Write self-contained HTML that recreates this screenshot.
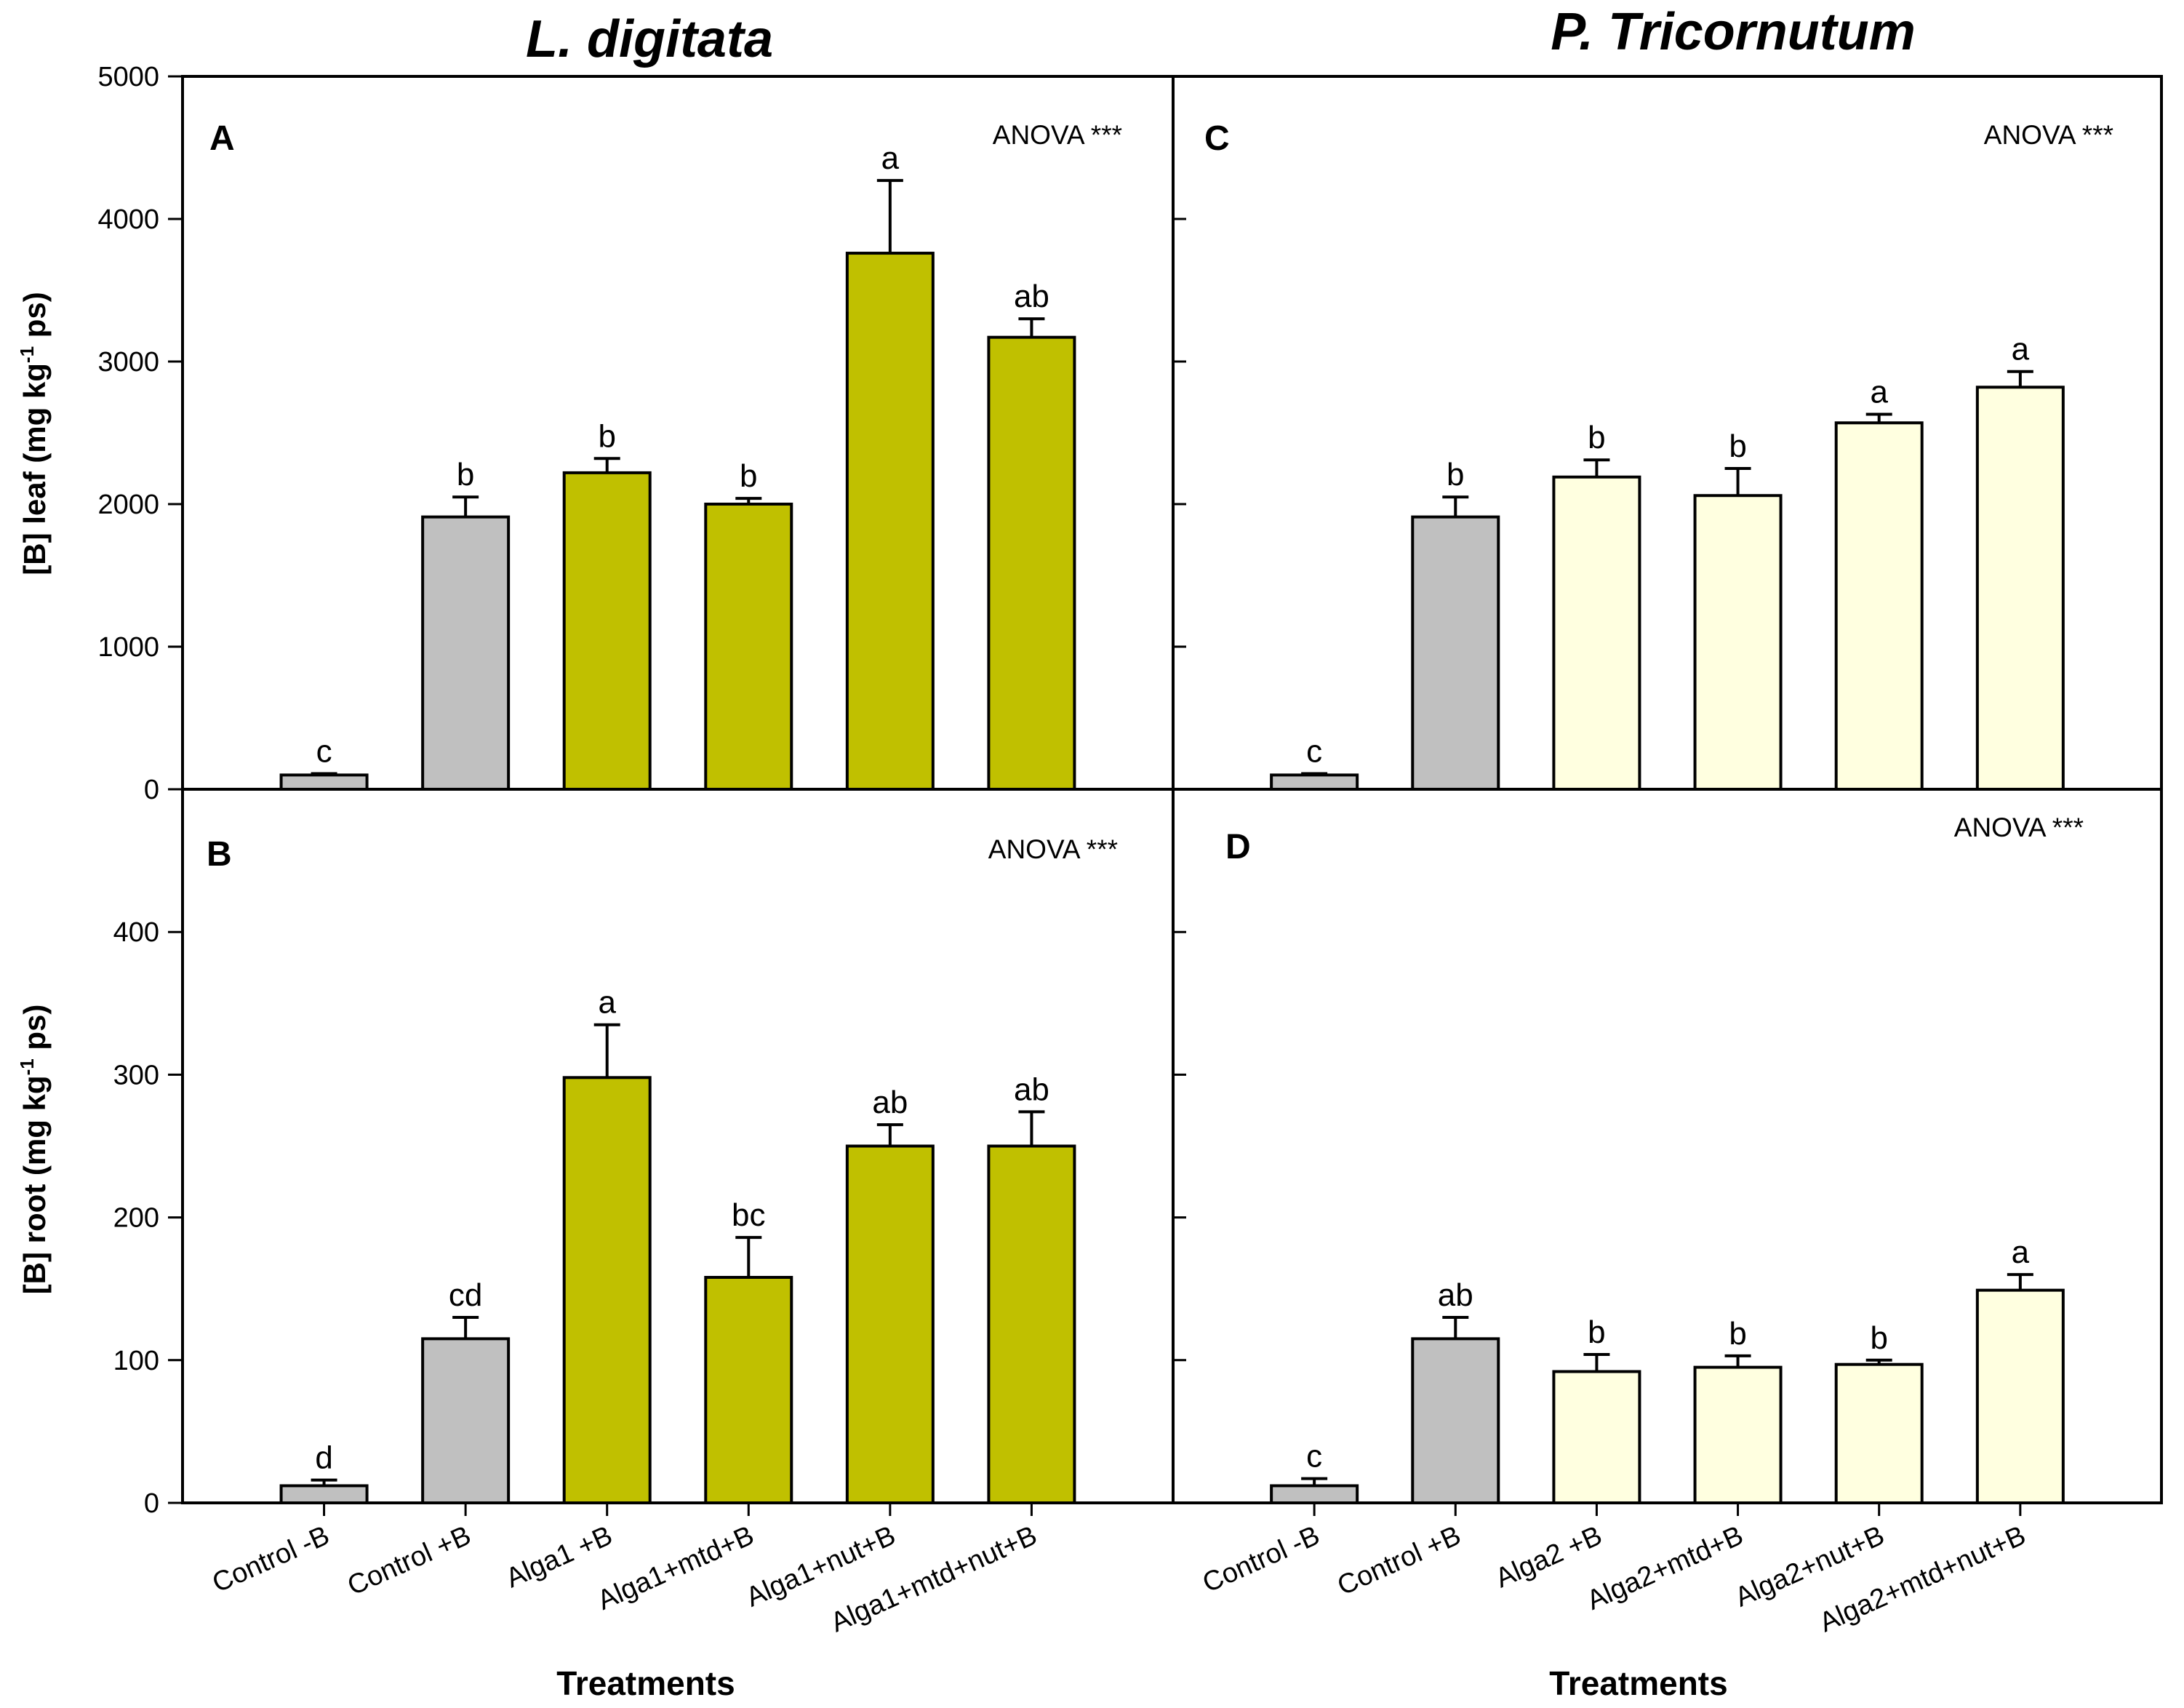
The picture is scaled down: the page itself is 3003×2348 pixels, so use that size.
<!DOCTYPE html>
<html><head><meta charset="utf-8"><style>
html,body{margin:0;padding:0;background:#fff;}
svg{display:block;font-family:"Liberation Sans",Arial,sans-serif;}
</style></head><body>
<svg id="chart" width="3003" height="2348" viewBox="0 0 3003 2348" xmlns="http://www.w3.org/2000/svg">
<text x="893" y="78" font-size="72" font-weight="bold" font-style="italic" text-anchor="middle">L. digitata</text>
<text x="2383" y="68" font-size="72" font-weight="bold" font-style="italic" text-anchor="middle">P. Tricornutum</text>
<text transform="translate(62,596) rotate(-90)" font-size="42" font-weight="bold" text-anchor="middle">[B] leaf (mg kg<tspan dy="-16" font-size="26">-1</tspan><tspan dy="16"> ps)</tspan></text>
<text transform="translate(62,1580) rotate(-90)" font-size="42" font-weight="bold" text-anchor="middle">[B] root (mg kg<tspan dy="-16" font-size="26">-1</tspan><tspan dy="16"> ps)</tspan></text>
<text x="888" y="2330" font-size="46" font-weight="bold" text-anchor="middle">Treatments</text>
<text x="2253" y="2330" font-size="46" font-weight="bold" text-anchor="middle">Treatments</text>
<g id="plots"></g>
</svg>
<script>
const catsLeft = ["Control -B","Control +B","Alga1 +B","Alga1+mtd+B","Alga1+nut+B","Alga1+mtd+nut+B"];
const catsRight = ["Control -B","Control +B","Alga2 +B","Alga2+mtd+B","Alga2+nut+B","Alga2+mtd+nut+B"];
const leafTicks = [0,1000,2000,3000,4000,5000];
const rootTicks = [0,100,200,300,400];
const valsA = [100,1910,2220,2000,3760,3170];
const errA  = [110,2050,2320,2040,4270,3300];
const letA  = ["c","b","b","b","a","ab"];
const valsC = [100,1910,2190,2060,2570,2820];
const errC  = [110,2050,2310,2250,2630,2930];
const letC  = ["c","b","b","b","a","a"];
const valsB = [12,115,298,158,250,250];
const errB  = [16,130,335,186,265,274];
const letB  = ["d","cd","a","bc","ab","ab"];
const valsD = [12,115,92,95,97,149];
const errD  = [17,130,104,103,100,160];
const letD  = ["c","ab","b","b","b","a"];
const colsA = ["#c0c0c0","#c0c0c0","#c0c000","#c0c000","#c0c000","#c0c000"];
const colsC = ["#c0c0c0","#c0c0c0","#ffffe0","#ffffe0","#ffffe0","#ffffe0"];

const NS="http://www.w3.org/2000/svg";
const root=document.getElementById('plots');
function mk(tag,at,parent){const e=document.createElementNS(NS,tag);for(const k in at)e.setAttribute(k,at[k]);(parent||root).appendChild(e);return e;}

function panel(o){
  const g=mk('g',{});
  
  
  const {x0,x1,y0,y1,max}=o;
  const ys=v=>y0-(v/max)*(y0-y1);
  const step=(x1-x0)/7;
  const xs=i=>x0+step*(i+1);
  const bw=118;
  const box=mk('rect',{x:x0,y:y1,width:x1-x0,height:y0-y1,fill:'none',stroke:'#000','stroke-width':4},g);
  
  
  o.ticks.forEach(t=>{
    const y=ys(t);
    const tk=mk('line',{x1:o.labels?x0-20:x0,x2:o.labels?x0:x0+18,y1:y,y2:y,stroke:'#000','stroke-width':3},g);
    
    
    if(o.labels){
      const tl=mk('text',{x:x0-32,y:y+13,'font-size':38,'text-anchor':'end'},g);
      tl.textContent=t;
      
      
    }
  });
  o.vals.forEach((v,i)=>{
    const cx=xs(i);
    const r=mk('rect',{x:cx-bw/2,y:ys(v),width:bw,height:y0-ys(v),fill:o.cols[i],stroke:'#000','stroke-width':4},g);
    
    
    const ey=ys(o.err[i]);
    const el=mk('path',{d:`M${cx},${ys(v)}V${ey}M${cx-18},${ey}H${cx+18}`,stroke:'#000','stroke-width':4,fill:'none'},g);
    
    
    const lt=mk('text',{x:cx,y:ey-16,'font-size':44,'text-anchor':'middle'},g);
    lt.textContent=o.lets[i];
    
    
    if(o.cats){
      const xt=mk('line',{x1:cx,x2:cx,y1:y0,y2:y0+18,stroke:'#000','stroke-width':3},g);
      
      
      const xl=mk('text',{transform:`translate(${cx+10},${y0+54}) rotate(-24)`,'font-size':38,'text-anchor':'end'},g);
      xl.textContent=o.cats[i];
      
      
    }
  });
  const pl=mk('text',{x:o.lx,y:o.ly,'font-size':48,'font-weight':'bold'},g);
  pl.textContent=o.id;
  
  
  const an=mk('text',{x:o.ax,y:o.ay,'font-size':37,'text-anchor':'end'},g);
  an.textContent='ANOVA ***';
  
  
}
panel({id:'A',x0:251,x1:1613,y0:1085,y1:105,max:5000,ticks:leafTicks,labels:true,vals:valsA,err:errA,lets:letA,cols:colsA,lx:288,ly:206,ax:1543,ay:198});
panel({id:'C',x0:1613,x1:2972,y0:1085,y1:105,max:5000,ticks:leafTicks,labels:false,vals:valsC,err:errC,lets:letC,cols:colsC,lx:1656,ly:206,ax:2906,ay:198});
panel({id:'B',x0:251,x1:1613,y0:2066,y1:1085,max:500,ticks:rootTicks,labels:true,vals:valsB,err:errB,lets:letB,cols:colsA,cats:catsLeft,lx:284,ly:1190,ax:1537,ay:1180});
panel({id:'D',x0:1613,x1:2972,y0:2066,y1:1085,max:500,ticks:rootTicks,labels:false,vals:valsD,err:errD,lets:letD,cols:colsC,cats:catsRight,lx:1685,ly:1180,ax:2865,ay:1150});
</script>
</body></html>
